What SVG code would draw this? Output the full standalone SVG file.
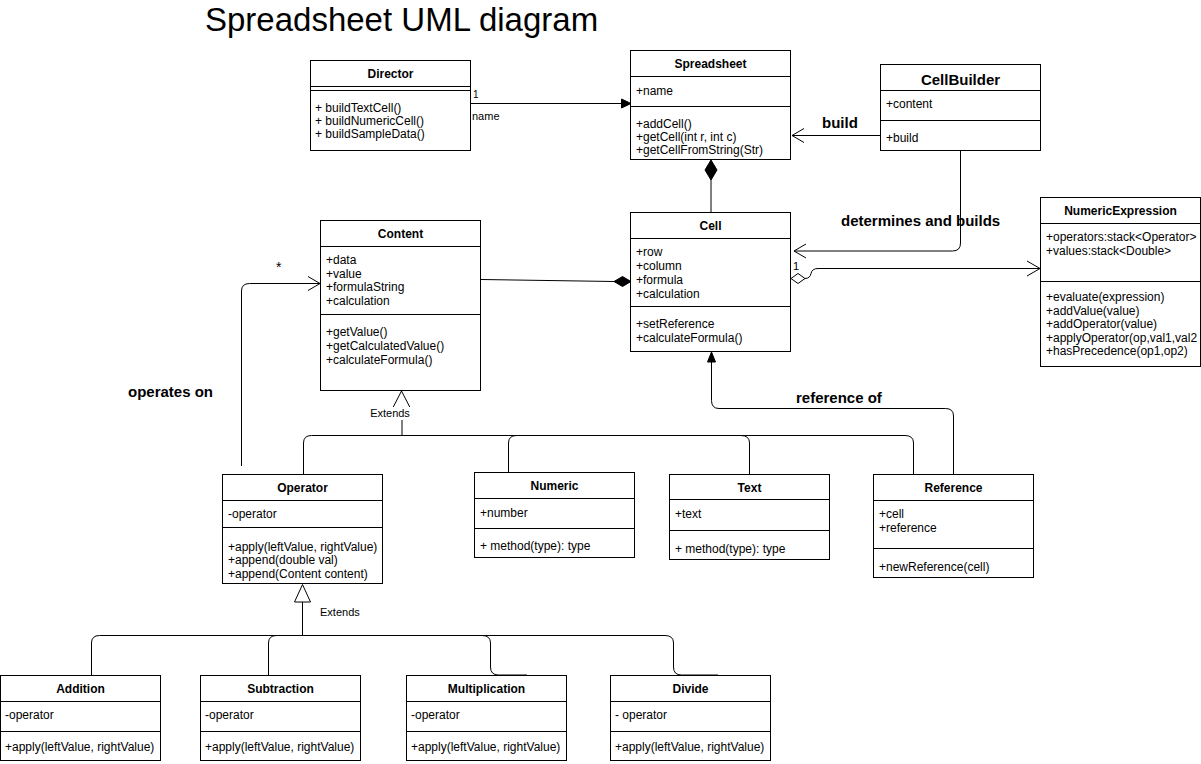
<svg xmlns="http://www.w3.org/2000/svg" width="1201" height="764" viewBox="0 0 1201 764">
<style>
.box{fill:#fff;stroke:#000;stroke-width:1}
.sep{stroke:#000;stroke-width:1;fill:none}
text{font-family:"Liberation Sans",Arial,Helvetica,sans-serif;font-size:12px;fill:#000}
.h{font-weight:bold;text-anchor:middle}
.big{font-size:15px}
.lbl{font-weight:bold;font-size:15px}
.sm{font-size:11px}
.ln{fill:none;stroke:#000;stroke-width:1}
.open{fill:none;stroke:#000;stroke-width:1}
.fill{fill:#000;stroke:#000;stroke-width:1}
.hollow{fill:#fff;stroke:#000;stroke-width:1}
</style>
<rect x="0" y="0" width="1201" height="764" fill="#fff"/>
<text x="205" y="31" style="font-size:33px">Spreadsheet UML diagram</text>

<g id="connectors">
  <!-- Director -> Spreadsheet -->
  <line class="ln" x1="470.5" y1="103.5" x2="622" y2="103.5"/>
  <polygon class="fill" points="631,103.5 621.5,99 621.5,108"/>
  <text class="sm" x="473" y="98" style="font-size:10px">1</text>
  <text class="sm" x="472" y="120">name</text>

  <!-- Spreadsheet - Cell composition -->
  <line class="ln" x1="711" y1="180" x2="711" y2="212.5"/>
  <polygon class="fill" points="711,160 717,170 711,180 705,170"/>

  <!-- CellBuilder build -> Spreadsheet -->
  <line class="ln" x1="880.5" y1="135.5" x2="792" y2="135.5"/>
  <polyline class="open" points="804,128.5 792,135.5 804,142.5"/>
  <text class="lbl" x="822" y="128">build</text>

  <!-- CellBuilder determines and builds -> Cell -->
  <path class="ln" d="M960.5,150.5 V243 Q960.5,251 952.5,251 H794"/>
  <polyline class="open" points="806,244 794,251 806,258"/>
  <text class="lbl" x="841" y="226">determines and builds</text>

  <!-- Cell aggregation -> NumericExpression -->
  <polygon class="hollow" points="791,278.5 798,273.5 805,278.5 798,283.5"/>
  <path class="ln" d="M805,278.5 Q810,278.5 811,273.5 Q812,268.5 818,268.5 H1040"/>
  <polyline class="open" points="1027,261 1040,268.5 1027,276"/>
  <text x="793" y="270" style="font-size:11px">1</text>

  <!-- Content - Cell composition -->
  <line class="ln" x1="481" y1="279.5" x2="614" y2="281.5"/>
  <polygon class="fill" points="614,281.5 622.5,276.5 631,281.5 622.5,286.5"/>

  <!-- Reference -> Cell -->
  <path class="ln" d="M953.5,474 V416 Q953.5,408.5 945.5,408.5 H719 Q711.5,408.5 711.5,400.5 V361"/>
  <polygon class="fill" points="711.5,352 707.5,362 715.5,362"/>
  <text class="lbl" x="796" y="403">reference of</text>

  <!-- Operator operates on Content -->
  <path class="ln" d="M241.5,466 V291 Q241.5,283.5 249.5,283.5 H320"/>
  <polyline class="open" points="308,276.5 320,283.5 308,290.5"/>
  <text x="276" y="272" style="font-size:14px">*</text>
  <text class="lbl" x="128" y="397">operates on</text>

  <!-- Extends Content -->
  <path class="ln" d="M303.5,474 V443 Q303.5,435.5 311.5,435.5 H402"/>
  <path class="ln" d="M402,435.5 H741 Q749.5,435.5 749.5,443 V474"/>
  <path class="ln" d="M508.5,472 V443 Q508.5,435.5 516.5,435.5 H905 Q913.5,435.5 913.5,443 V474"/>
  <line class="ln" x1="402" y1="407" x2="402" y2="435.5"/>
  <polygon class="hollow" points="401.5,391 393,407.5 410,407.5"/>
  <rect x="369" y="407" width="42" height="13" fill="#fff"/>
  <text class="sm" x="390" y="417" text-anchor="middle">Extends</text>

  <!-- Extends Operator -->
  <line class="ln" x1="302.5" y1="602" x2="302.5" y2="635.5"/>
  <polygon class="hollow" points="302.5,584.5 294.5,602 310.5,602"/>
  <text class="sm" x="320" y="616">Extends</text>
  <path class="ln" d="M91.5,675 V643 Q91.5,635.5 99.5,635.5 H302.5"/>
  <path class="ln" d="M268.5,675 V643 Q268.5,635.5 276.5,635.5 H302.5"/>
  <path class="ln" d="M302.5,635.5 H482 Q490.5,635.5 490.5,643 V667 Q490.5,675 498.5,675 H527"/>
  <path class="ln" d="M302.5,635.5 H665 Q673.5,635.5 673.5,643 V667 Q673.5,675 681.5,675 H718"/>
</g>

<g id="Director">
  <rect class="box" x="310.5" y="60.5" width="160" height="90"/>
  <text class="h" x="390.5" y="78">Director</text>
  <line class="sep" x1="310.5" y1="86.5" x2="470.5" y2="86.5"/>
  <line class="sep" x1="310.5" y1="90.5" x2="470.5" y2="90.5"/>
  <text x="315" y="112">+ buildTextCell()</text>
  <text x="315" y="125">+ buildNumericCell()</text>
  <text x="315" y="138">+ buildSampleData()</text>
</g>

<g id="Spreadsheet">
  <rect class="box" x="630.5" y="50.5" width="160" height="109"/>
  <text class="h" x="710.5" y="68">Spreadsheet</text>
  <line class="sep" x1="630.5" y1="76.5" x2="790.5" y2="76.5"/>
  <text x="636" y="95">+name</text>
  <line class="sep" x1="630.5" y1="106.5" x2="790.5" y2="106.5"/>
  <text x="636" y="128">+addCell()</text>
  <text x="636" y="141">+getCell(int r, int c)</text>
  <text x="636" y="154">+getCellFromString(Str)</text>
</g>

<g id="CellBuilder">
  <rect class="box" x="880.5" y="64.5" width="160" height="86"/>
  <text class="h big" x="960.5" y="85">CellBuilder</text>
  <line class="sep" x1="880.5" y1="90.5" x2="1040.5" y2="90.5"/>
  <text x="886" y="107.5">+content</text>
  <line class="sep" x1="880.5" y1="120.5" x2="1040.5" y2="120.5"/>
  <text x="886" y="142">+build</text>
</g>

<g id="NumericExpression">
  <rect class="box" x="1040.5" y="197.5" width="160" height="169"/>
  <text class="h" x="1120.5" y="215">NumericExpression</text>
  <line class="sep" x1="1040.5" y1="223.5" x2="1200.5" y2="223.5"/>
  <text x="1046" y="241">+operators:stack&lt;Operator&gt;</text>
  <text x="1046" y="255">+values:stack&lt;Double&gt;</text>
  <line class="sep" x1="1040.5" y1="281.5" x2="1200.5" y2="281.5"/>
  <text x="1046" y="301">+evaluate(expression)</text>
  <text x="1046" y="314.5">+addValue(value)</text>
  <text x="1046" y="328">+addOperator(value)</text>
  <text x="1046" y="341.5">+applyOperator(op,val1,val2</text>
  <text x="1046" y="355">+hasPrecedence(op1,op2)</text>
</g>

<g id="Cell">
  <rect class="box" x="630.5" y="212.5" width="160" height="139"/>
  <text class="h" x="710.5" y="230">Cell</text>
  <line class="sep" x1="630.5" y1="238.5" x2="790.5" y2="238.5"/>
  <text x="636" y="256">+row</text>
  <text x="636" y="269.5">+column</text>
  <text x="636" y="283.5">+formula</text>
  <text x="636" y="297.5">+calculation</text>
  <line class="sep" x1="630.5" y1="306.5" x2="790.5" y2="306.5"/>
  <text x="636" y="327.5">+setReference</text>
  <text x="636" y="341.5">+calculateFormula()</text>
</g>

<g id="Content">
  <rect class="box" x="320.5" y="220.5" width="160" height="170"/>
  <text class="h" x="400.5" y="238">Content</text>
  <line class="sep" x1="320.5" y1="246.5" x2="480.5" y2="246.5"/>
  <text x="326" y="264">+data</text>
  <text x="326" y="277.5">+value</text>
  <text x="326" y="291">+formulaString</text>
  <text x="326" y="304.5">+calculation</text>
  <line class="sep" x1="320.5" y1="314.5" x2="480.5" y2="314.5"/>
  <text x="326" y="336">+getValue()</text>
  <text x="326" y="349.5">+getCalculatedValue()</text>
  <text x="326" y="363.5">+calculateFormula()</text>
</g>

<g id="Operator">
  <rect class="box" x="222.5" y="474.5" width="160" height="109"/>
  <text class="h" x="302.5" y="491.5">Operator</text>
  <line class="sep" x1="222.5" y1="500.5" x2="382.5" y2="500.5"/>
  <text x="228" y="518">-operator</text>
  <line class="sep" x1="222.5" y1="527.5" x2="382.5" y2="527.5"/>
  <text x="228" y="551">+apply(leftValue, rightValue)</text>
  <text x="228" y="564">+append(double val)</text>
  <text x="228" y="577.5">+append(Content content)</text>
</g>

<g id="Numeric">
  <rect class="box" x="474.5" y="472.5" width="160" height="85"/>
  <text class="h" x="554.5" y="490">Numeric</text>
  <line class="sep" x1="474.5" y1="498.5" x2="634.5" y2="498.5"/>
  <text x="480" y="517">+number</text>
  <line class="sep" x1="474.5" y1="528.5" x2="634.5" y2="528.5"/>
  <text x="480" y="550">+ method(type): type</text>
</g>

<g id="Text">
  <rect class="box" x="669.5" y="474.5" width="160" height="85"/>
  <text class="h" x="749.5" y="491.5">Text</text>
  <line class="sep" x1="669.5" y1="499.5" x2="829.5" y2="499.5"/>
  <text x="675" y="518">+text</text>
  <line class="sep" x1="669.5" y1="530.5" x2="829.5" y2="530.5"/>
  <text x="675" y="552.5">+ method(type): type</text>
</g>

<g id="Reference">
  <rect class="box" x="873.5" y="474.5" width="160" height="103"/>
  <text class="h" x="953.5" y="491.5">Reference</text>
  <line class="sep" x1="873.5" y1="500.5" x2="1033.5" y2="500.5"/>
  <text x="879" y="517.5">+cell</text>
  <text x="879" y="532">+reference</text>
  <line class="sep" x1="873.5" y1="548.5" x2="1033.5" y2="548.5"/>
  <text x="879" y="571">+newReference(cell)</text>
</g>

<g id="Addition">
  <rect class="box" x="0.5" y="675.5" width="160" height="85"/>
  <text class="h" x="80.5" y="692.5">Addition</text>
  <line class="sep" x1="0.5" y1="701.5" x2="160.5" y2="701.5"/>
  <text x="5" y="719">-operator</text>
  <line class="sep" x1="0.5" y1="731.5" x2="160.5" y2="731.5"/>
  <text x="5" y="751">+apply(leftValue, rightValue)</text>
</g>

<g id="Subtraction">
  <rect class="box" x="200.5" y="675.5" width="160" height="85"/>
  <text class="h" x="280.5" y="692.5">Subtraction</text>
  <line class="sep" x1="200.5" y1="701.5" x2="360.5" y2="701.5"/>
  <text x="205" y="719">-operator</text>
  <line class="sep" x1="200.5" y1="731.5" x2="360.5" y2="731.5"/>
  <text x="205" y="751">+apply(leftValue, rightValue)</text>
</g>

<g id="Multiplication">
  <rect class="box" x="406.5" y="675.5" width="160" height="85"/>
  <text class="h" x="486.5" y="692.5">Multiplication</text>
  <line class="sep" x1="406.5" y1="701.5" x2="566.5" y2="701.5"/>
  <text x="411" y="719">-operator</text>
  <line class="sep" x1="406.5" y1="731.5" x2="566.5" y2="731.5"/>
  <text x="411" y="751">+apply(leftValue, rightValue)</text>
</g>

<g id="Divide">
  <rect class="box" x="610.5" y="675.5" width="160" height="85"/>
  <text class="h" x="690.5" y="692.5">Divide</text>
  <line class="sep" x1="610.5" y1="701.5" x2="770.5" y2="701.5"/>
  <text x="615" y="719">- operator</text>
  <line class="sep" x1="610.5" y1="731.5" x2="770.5" y2="731.5"/>
  <text x="615" y="751">+apply(leftValue, rightValue)</text>
</g>
</svg>
